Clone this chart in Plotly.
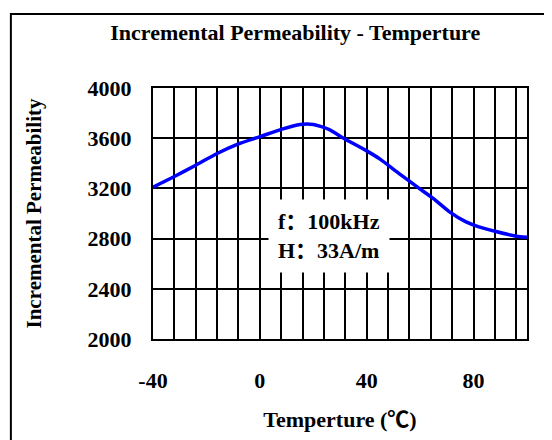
import plotly.graph_objects as go

temp = [-40, -32, -24, -16, -8, 0, 8, 15, 20, 26, 31, 40, 45, 52, 59, 65, 71, 77, 82, 88, 96, 100]
perm = [3210, 3295, 3385, 3478, 3555, 3612, 3670, 3709, 3709, 3669, 3604, 3499, 3433, 3320,
        3210, 3118, 3013, 2935, 2893, 2858, 2819, 2810]
x_ticks = [-40, 0, 40, 80]
y_ticks = [2000, 2400, 2800, 3200, 3600, 4000]

serif = "Liberation Serif, Times New Roman, Noto Sans CJK SC, serif"

fig = go.Figure(go.Scatter(
    x=temp, y=perm, mode='lines',
    line=dict(color='#0000FF', width=3.5, shape='spline', smoothing=0.6),
    hoverinfo='skip'
))

# page body has an 8px margin, so the figure is shrunk by 8px
fig.update_layout(
    width=544, height=432,
    margin=dict(l=145, r=25, t=80, b=98),
    paper_bgcolor='white', plot_bgcolor='white',
    showlegend=False,
    font=dict(family=serif, color='black', size=22),
    title=dict(text='<b>Incremental Permeability - Temperture</b>',
               x=0.528, xref='container', xanchor='center', y=0.943, yanchor='middle',
               font=dict(size=22)),
    xaxis=dict(
        range=[-40, 100], tickvals=x_ticks,
        ticktext=['<b>%d</b>' % v for v in x_ticks],
        showgrid=True, gridcolor='black', gridwidth=1.5,
        minor=dict(dtick=8, tick0=-40, showgrid=True, gridcolor='black', gridwidth=1.5),
        showline=True, linecolor='black', linewidth=2, mirror=True,
        ticks='', ticklabelstandoff=21, zeroline=False,
        tickfont=dict(size=22),
        title=dict(text='<b>Temperture (℃)</b>', standoff=19, font=dict(size=22)),
    ),
    yaxis=dict(
        range=[2000, 4000], tickvals=y_ticks,
        ticktext=['<b>%d</b>' % v for v in y_ticks],
        showgrid=True, gridcolor='black', gridwidth=1.5,
        showline=True, linecolor='black', linewidth=2, mirror=True,
        ticks='', ticklabelstandoff=15, zeroline=False,
        tickfont=dict(size=22),
        title=dict(text='<b>Incremental Permeability</b>', standoff=40, font=dict(size=21)),
    ),
)

fig.add_annotation(
    x=26, y=2819, xref='x', yref='y',
    text='<b>f：100kHz</b><br><b>H：33A/m</b>',
    showarrow=False, align='left', bgcolor='white',
    borderpad=9, font=dict(size=22)
)

# outer chart frame
fig.add_shape(type='rect', xref='paper', yref='paper',
              x0=-0.38, x1=1.1, y0=-0.45, y1=1.295,
              line=dict(color='black', width=2), layer='below')

fig.write_html("out.html")
